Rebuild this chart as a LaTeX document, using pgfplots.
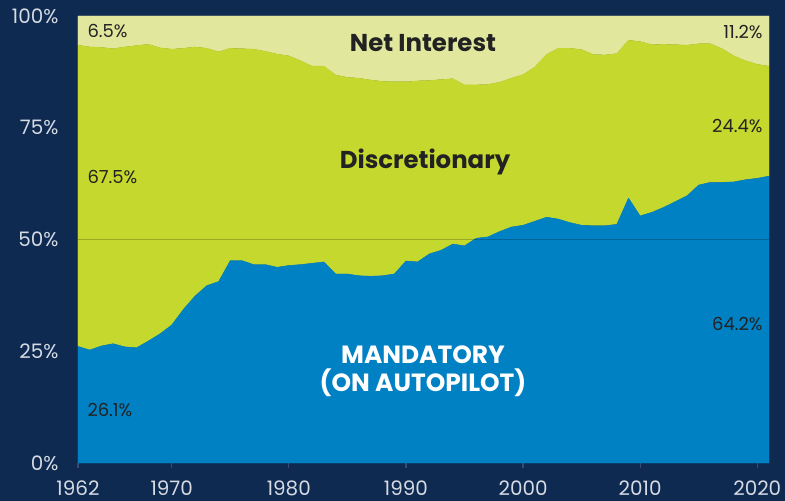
\documentclass[border=0pt]{standalone}
\usepackage{fontspec}
\setmainfont{Poppins}
\usepackage{pgfplots}
\usepackage{pgfplotstable}
\pgfplotsset{compat=1.18}
\definecolor{navy}{HTML}{0F2A50}
\definecolor{mand}{HTML}{0081C4}
\definecolor{disc}{HTML}{C5D82D}
\definecolor{netint}{HTML}{E1E89D}
\definecolor{darktxt}{HTML}{222222}
\definecolor{ticktxt}{HTML}{D5DAE3}
\definecolor{tickcol}{HTML}{3A4B6C}
\pgfplotstableread{
year M D N
1962 26.1 67.4 6.5
1963 25.3 67.8 6.9
1964 26.2 66.8 7.0
1965 26.7 66.0 7.3
1966 26.0 67.1 6.9
1967 25.8 67.6 6.6
1968 27.3 66.4 6.3
1969 28.9 64.0 7.1
1970 30.9 61.7 7.4
1971 34.4 58.4 7.2
1972 37.4 55.7 6.9
1973 39.7 53.1 7.2
1974 40.6 51.4 8.0
1975 45.3 47.5 7.2
1976 45.3 47.4 7.3
1977 44.4 48.2 7.4
1978 44.4 47.7 7.9
1979 43.8 47.7 8.5
1980 44.2 46.9 8.9
1981 44.4 45.6 10.0
1982 44.7 44.1 11.2
1983 45.0 43.8 11.2
1984 42.3 44.5 13.2
1985 42.3 44.0 13.7
1986 41.9 44.2 13.9
1987 41.8 43.9 14.3
1988 41.9 43.5 14.6
1989 42.3 43.0 14.7
1990 45.2 40.1 14.7
1991 45.0 40.5 14.5
1992 46.8 38.8 14.4
1993 47.6 38.2 14.2
1994 49.0 37.0 14.0
1995 48.6 36.0 15.4
1996 50.3 34.3 15.4
1997 50.6 34.1 15.3
1998 51.8 33.4 14.8
1999 52.8 33.3 13.9
2000 53.2 33.7 13.1
2001 54.1 34.5 11.4
2002 55.0 36.4 8.6
2003 54.6 38.2 7.2
2004 53.8 39.0 7.2
2005 53.2 39.3 7.5
2006 53.1 38.3 8.6
2007 53.1 38.2 8.7
2008 53.4 38.2 8.4
2009 59.3 35.3 5.4
2010 55.3 39.0 5.7
2011 56.1 37.5 6.4
2012 57.2 36.5 6.3
2013 58.5 35.1 6.4
2014 59.8 33.7 6.5
2015 62.2 31.6 6.2
2016 62.8 31.0 6.2
2017 62.8 29.9 7.3
2018 62.9 28.2 8.9
2019 63.4 26.6 10.0
2020 63.7 25.5 10.8
2021 64.2 24.6 11.2
}\datatable
\begin{document}
\begin{tikzpicture}
\fill[navy] (-78bp,-38bp) rectangle (707bp,463bp);
\begin{axis}[
  at={(0,0)}, anchor=south west,
  scale only axis, width=691bp, height=447bp,
  xmin=1962, xmax=2021, ymin=0, ymax=100,
  stack plots=y,
  axis line style={draw=none},
  xtick={1962,1970,1980,1990,2000,2010,2020},
  ytick={0,25,50,75,100},
  xtick pos=bottom,
  /pgf/number format/assume math mode=true,
  /pgf/number format/1000 sep={},
  tick align=outside, major tick length=5bp,
  xtick style={draw=tickcol, line width=1.2pt},
  ytick style={draw=none},
  xticklabel style={font=\fontsize{20}{22}\selectfont, text=ticktxt, yshift=-9bp},
  yticklabel={\pgfmathprintnumber{\tick}\%},
  yticklabel style={font=\fontsize{20}{22}\selectfont, text=ticktxt, xshift=-11bp},
  clip=false,
]
\addplot[fill=mand, draw=mand, line width=0.2pt] table[x=year, y=M] {\datatable} \closedcycle;
\addplot[fill=disc, draw=disc, line width=0.2pt] table[x=year, y=D] {\datatable} \closedcycle;
\addplot[fill=netint, draw=netint, line width=0.2pt] table[x=year, y=N] {\datatable} \closedcycle;
\end{axis}
\draw[black, opacity=0.22, line width=0.9pt] (0bp,223.5bp) -- (691bp,223.5bp);
\node[font=\fontsize{24.5}{28}\selectfont\bfseries, text=darktxt] at (345bp,420bp) {Net Interest};
\node[font=\fontsize{24.5}{28}\selectfont\bfseries, text=darktxt] at (347bp,301bp) {Discretionary};
\node[font=\fontsize{25}{28}\selectfont\bfseries, text=white] at (345bp,108bp) {MANDATORY};
\node[font=\fontsize{25}{28}\selectfont\bfseries, text=white] at (345bp,80bp) {(ON AUTOPILOT)};
\node[anchor=west, font=\fontsize{18}{20}\selectfont, text=darktxt] at (6bp,432bp) {6.5\%};
\node[anchor=west, font=\fontsize{18}{20}\selectfont, text=darktxt] at (6bp,286bp) {67.5\%};
\node[anchor=west, font=\fontsize{18}{20}\selectfont, text=darktxt] at (6bp,53bp) {26.1\%};
\node[anchor=east, font=\fontsize{18}{20}\selectfont, text=darktxt] at (688bp,431bp) {11.2\%};
\node[anchor=east, font=\fontsize{18}{20}\selectfont, text=darktxt] at (688bp,337bp) {24.4\%};
\node[anchor=east, font=\fontsize{18}{20}\selectfont, text=darktxt] at (688bp,139bp) {64.2\%};
\end{tikzpicture}
\end{document}
